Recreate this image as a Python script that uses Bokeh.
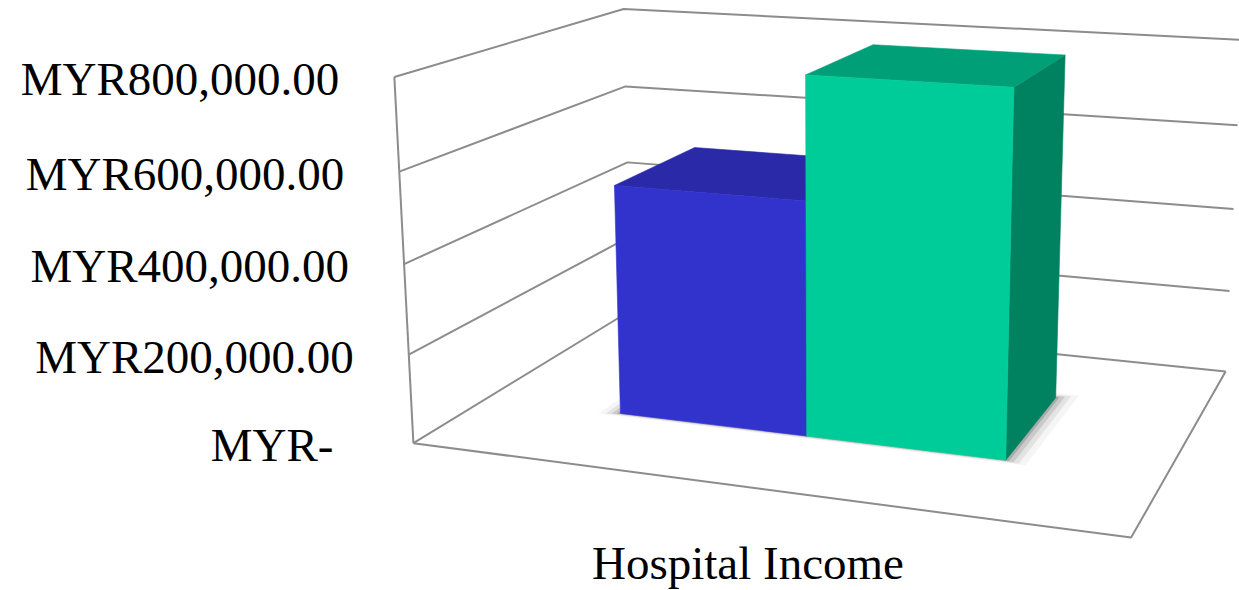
import numpy as np
from bokeh.plotting import figure
from bokeh.models import Range1d, ColumnDataSource
from bokeh.core.properties import value
from bokeh.embed import file_html
from bokeh.resources import INLINE

# ---------------- data ----------------
categories = ["Hospital Income"]
series_values = [526000, 796000]
series_front = ["#3232CC", "#00CC99"]
series_top = ["#2A2AA8", "#009F78"]
series_side = ["#27279A", "#008261"]
tick_values = [0, 200000, 400000, 600000, 800000]
tick_labels = ["MYR-", "MYR200,000.00", "MYR400,000.00", "MYR600,000.00", "MYR800,000.00"]
y_max = 800000

# ---------------- layout / camera ----------------
W, H = 1239, 590
# perspective camera (3x4) mapping (category-x, value/y_max, depth) -> screen px
CAM = np.array([[585.661, -36.1732, 359.999, 412.891],
                [31.7192, -369.557, -62.9849, 442.656],
                [-0.116805, -0.0434844, 0.225718, 1.0]])
GAP_WIDTH = 1.5
GAP_DEPTH = 1.5
GRID_COLOR = "#8C8C8C"
FONT = "Liberation Serif"
FONT_SIZE = "47px"


def proj(X, Y, Z):
    X = np.atleast_1d(np.asarray(X, float)); Y = np.atleast_1d(np.asarray(Y, float)); Z = np.atleast_1d(np.asarray(Z, float))
    X, Y, Z = np.broadcast_arrays(X, Y, Z)
    pts = np.vstack([X, Y, Z, np.ones_like(X)])
    r = CAM @ pts
    return (r[0] / r[2]).tolist(), (r[1] / r[2]).tolist()


p = figure(width=W, height=H, x_range=Range1d(0, W), y_range=Range1d(H, 0),
           output_backend="svg", toolbar_location=None, min_border=0)
p.axis.visible = False
p.grid.visible = False
p.outline_line_color = None
p.background_fill_color = "white"

# ---------------- walls / gridlines ----------------
gx, gy = [], []
for t in tick_values:
    yn = t / y_max
    xs, ys = proj([0, 0, 1], [yn, yn, yn], [0, 1, 1])
    gx.append(xs); gy.append(ys)
xs, ys = proj([0, 0], [0, 1], [0, 0])
gx.append(xs); gy.append(ys)
xs, ys = proj([0, 1, 1], [0, 0, 0], [0, 0, 1])
gx.append(xs); gy.append(ys)
p.multi_line(gx, gy, line_color=GRID_COLOR, line_width=2)

# ---------------- bars ----------------
n = len(series_values)
w = 1.0 / (n + GAP_WIDTH)
d = 1.0 / (1 + GAP_DEPTH)
z0, z1 = 0.5 - d / 2, 0.5 + d / 2
start = 0.5 - n * w / 2

# soft shadow on the floor
for e, a in [(0.030, 0.04), (0.020, 0.07), (0.012, 0.11), (0.005, 0.16)]:
    xa, xb = start - e, start + n * w + e
    xs, ys = proj([xa, xb, xb, xa], [0, 0, 0, 0], [z0 - e * 0.5, z0 - e * 0.5, z1 + e, z1 + e])
    p.patch(xs, ys, fill_color="black", fill_alpha=a, line_color=None)

fx, fy, fc = [], [], []
for i, v in enumerate(series_values):
    h = v / y_max
    x0, x1 = start + i * w, start + (i + 1) * w
    # right side
    xs, ys = proj([x1, x1, x1, x1], [0, 0, h, h], [z0, z1, z1, z0])
    fx.append(xs); fy.append(ys); fc.append(series_side[i])
    # top
    xs, ys = proj([x0, x1, x1, x0], [h, h, h, h], [z0, z0, z1, z1])
    fx.append(xs); fy.append(ys); fc.append(series_top[i])
    # front
    xs, ys = proj([x0, x1, x1, x0], [0, 0, h, h], [z0, z0, z0, z0])
    fx.append(xs); fy.append(ys); fc.append(series_front[i])
p.patches(fx, fy, fill_color=fc, line_color=fc, line_width=0.6)

# ---------------- tick labels ----------------
lx, ly = [], []
for t in tick_values:
    xs, ys = proj(0, t / y_max, 0)
    pad = 80 if t == 0 else 55
    lx.append(xs[0] - pad); ly.append(ys[0] + 2)
src = ColumnDataSource(dict(x=lx, y=ly, text=tick_labels))
p.text(x="x", y="y", text="text", source=src, text_align="right", text_baseline="middle",
       text_font=value(FONT), text_font_size=FONT_SIZE, text_color="black")

# ---------------- category label ----------------
cx, cy = proj(0.5, 0, 0)
p.text(x=[cx[0] - 2], y=[cy[0] + 76], text=categories, text_align="center", text_baseline="middle",
       text_font=value(FONT), text_font_size=FONT_SIZE, text_color="black")

open("out.html", "w").write(file_html(p, INLINE))
